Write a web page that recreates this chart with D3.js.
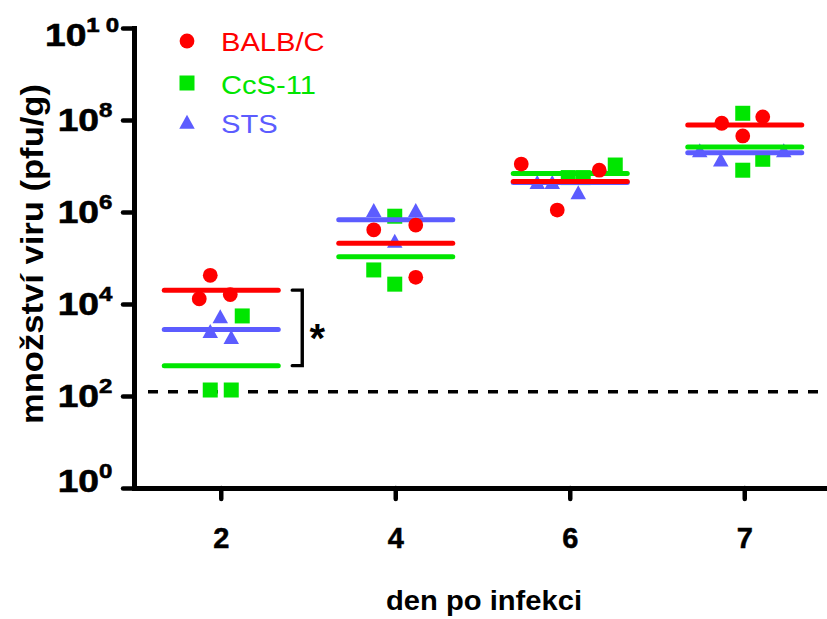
<!DOCTYPE html>
<html>
<head>
<meta charset="utf-8">
<script src="https://cdn.jsdelivr.net/npm/d3@7"></script>
<style>
  html, body { margin: 0; padding: 0; background: #fff; }
  svg { display: block; font-family: "Liberation Sans", Arial, sans-serif; }
</style>
</head>
<body>
<svg id="chart" width="827" height="619"></svg>
<script>
// ---------------- data ----------------
const days = ["2", "4", "6", "7"];
const yTickExponents = [0, 2, 4, 6, 8, 10];
const seriesNames = ["BALB/C", "CcS-11", "STS"];

// individual animals (pfu/g), 3 per day
const balbValues = [[4.2e4, 1.3e4, 1.6e4], [4.1e5, 5.2e5, 3.8e4], [1.1e7, 8.1e6, 1.1e6], [8.5e7, 1.17e8, 4.5e7]];
const ccsValues  = [[5.5e3, 135, 135], [8.1e5, 5.5e4, 2.7e4], [1.05e7, 5.6e6, 5.6e6], [1.4e8, 1.4e7, 8.1e6]];
const stsValues  = [[4.8e3, 2.3e3, 1.7e3], [9.8e5, 9.8e5, 2.1e5], [4.0e6, 4.0e6, 2.4e6], [1.95e7, 1.95e7, 1.23e7]];

// group means (geometric)
const balbMeans = [2.0e4, 2.1e5, 4.6e6, 7.8e7];
const ccsMeans  = [457, 1.07e5, 6.9e6, 2.6e7];
const stsMeans  = [2.8e3, 6.8e5, 4.4e6, 1.95e7];

// horizontal spread of overlapping points (in marker slots)
const balbJitter = [[-1.1, -2.2, 0.9], [-2.2, 2.0, 2.0], [-4.9, 2.9, -1.3], [-2.3, 1.8, -0.2]];
const ccsJitter  = [[2.1, -1.1, 1.0], [-0.1, -2.2, -0.1], [4.5, -0.2, 1.3], [-0.2, 1.8, -0.2]];
const stsJitter  = [[-0.1, -1.1, 1.0], [-2.2, 2.0, -0.1], [-3.3, -1.8, 0.8], [-4.5, 3.9, -2.4]];

const detectionLimit = 123;
const significance = "*";

// ---------------- styling ----------------
const colors = { "BALB/C": "#ff0000", "CcS-11": "#00e600", "STS": "#5c5cff" };
const slot = 10;

const svg = d3.select("#chart");
const x = d3.scaleBand().domain(days).range([134, 832]).padding(0);
const y = d3.scaleLog().domain([1, 1e10]).range([488, 28]);
const cx = d => x(d) + x.bandwidth() / 2;

// ---------------- axes ----------------
const yAxis = d3.axisLeft(y).tickValues(yTickExponents.map(e => Math.pow(10, e)))
  .tickSize(11).tickSizeOuter(0).tickFormat("");
const gy = svg.append("g").attr("transform", "translate(134,0)").call(yAxis);
gy.select(".domain").attr("stroke", "#000").attr("stroke-width", 5).attr("stroke-linecap", "square");
gy.selectAll(".tick line").attr("stroke", "#000").attr("stroke-width", 4.5).attr("stroke-linecap", "round");

const xAxis = d3.axisBottom(x).tickSize(11).tickSizeOuter(0).tickFormat("");
const gx = svg.append("g").attr("transform", "translate(0,488)").call(xAxis);
gx.select(".domain").attr("stroke", "#000").attr("stroke-width", 5).attr("stroke-linecap", "square");
gx.selectAll(".tick line").attr("stroke", "#000").attr("stroke-width", 4.5).attr("stroke-linecap", "round");

// y tick labels 10^n
yTickExponents.forEach(e => {
  const ty = Math.max(35, Math.min(481, y(Math.pow(10, e))));
  const g = svg.append("g").attr("transform", `translate(85,${ty}) scale(1.2,1)`);
  const t = g.append("text").attr("text-anchor", "middle").attr("y", 11)
    .attr("font-weight", "bold").attr("fill", "#000")
    .attr("stroke", "#000").attr("stroke-width", 0.6);
  t.append("tspan").attr("font-size", 31).text("10");
  t.append("tspan").attr("font-size", 20).attr("dy", -14)
    .attr("letter-spacing", String(e).length > 1 ? 5 : 0).text(String(e));
});

// x tick labels
days.forEach(d => {
  svg.append("text").attr("x", cx(d)).attr("y", 548).attr("text-anchor", "middle")
    .attr("font-size", 29).attr("font-weight", "bold")
    .attr("stroke", "#000").attr("stroke-width", 0.5).text(d);
});

// axis titles
svg.append("text").attr("x", 484).attr("y", 610).attr("text-anchor", "middle")
  .attr("font-size", 28).attr("font-weight", "bold")
  .attr("textLength", 196).attr("lengthAdjust", "spacingAndGlyphs")
  .text("den po infekci");
svg.append("text").attr("transform", "translate(43,254) rotate(-90)").attr("text-anchor", "middle")
  .attr("font-size", 32).attr("font-weight", "bold")
  .attr("textLength", 340).attr("lengthAdjust", "spacingAndGlyphs")
  .text("množství viru (pfu/g)");

// detection limit
svg.append("line").attr("x1", 148).attr("x2", 827)
  .attr("y1", y(detectionLimit)).attr("y2", y(detectionLimit))
  .attr("stroke", "#000").attr("stroke-width", 3.5).attr("stroke-dasharray", "10,10");

// ---------------- markers ----------------
function drawMarker(g, shape, px, py, color) {
  if (shape === "circle") {
    g.append("circle").attr("cx", px).attr("cy", py).attr("r", 7.4).attr("fill", color);
  } else if (shape === "square") {
    g.append("rect").attr("x", px - 7.5).attr("y", py - 7.5).attr("width", 15).attr("height", 15).attr("fill", color);
  } else {
    const h = 14, w = 15.5;
    g.append("path").attr("d", `M${px},${py - 2 * h / 3}L${px + w / 2},${py + h / 3}L${px - w / 2},${py + h / 3}Z`)
      .attr("fill", color);
  }
}

const series = [
  { name: "STS", shape: "triangle", values: stsValues, jitter: stsJitter, means: stsMeans },
  { name: "CcS-11", shape: "square", values: ccsValues, jitter: ccsJitter, means: ccsMeans },
  { name: "BALB/C", shape: "circle", values: balbValues, jitter: balbJitter, means: balbMeans }
];

const gPts = svg.append("g");
function drawPoints(s, g) {
  days.forEach((d, i) => {
    s.values[i].forEach((v, j) => {
      drawMarker(g, s.shape, cx(d) + s.jitter[i][j] * slot, y(v), colors[s.name]);
    });
  });
}
function drawMeans(s) {
  days.forEach((d, i) => {
    svg.append("line").attr("x1", cx(d) - 57).attr("x2", cx(d) + 57)
      .attr("y1", y(s.means[i])).attr("y2", y(s.means[i]))
      .attr("stroke", colors[s.name]).attr("stroke-width", 5).attr("stroke-linecap", "round");
  });
}
drawPoints(series[0], gPts);
drawPoints(series[1], gPts);
drawMeans(series[0]);
drawMeans(series[1]);
drawMeans(series[2]);
drawPoints(series[2], svg.append("g"));

// significance bracket on day 2 (BALB/C vs CcS-11)
const bx = cx(days[0]);
const yTop = y(balbMeans[0]), yBot = y(ccsMeans[0]);
svg.append("path").attr("d", `M${bx + 71},${yTop}H${bx + 81}V${yBot}H${bx + 71}`)
  .attr("fill", "none").attr("stroke", "#000").attr("stroke-width", 3.4)
  .attr("stroke-linecap", "round").attr("stroke-linejoin", "miter");
svg.append("text").attr("x", bx + 96).attr("y", (yTop + yBot) / 2 + 24).attr("text-anchor", "middle")
  .attr("font-size", 40).attr("font-weight", "bold").text(significance);

// ---------------- legend ----------------
const legendShapes = { "BALB/C": "circle", "CcS-11": "square", "STS": "triangle" };
const legendY = [41, 83, 124];
const legendBase = [50.5, 93.5, 133];
const gLeg = svg.append("g");
seriesNames.forEach((n, i) => {
  drawMarker(gLeg, legendShapes[n], 187, legendY[i], colors[n]);
  const t = gLeg.append("text").attr("x", 221).attr("y", legendBase[i])
    .attr("font-size", 26).attr("fill", colors[n]).text(n);
  const w = t.node().getComputedTextLength();
  t.attr("textLength", w * 1.12).attr("lengthAdjust", "spacingAndGlyphs");
});
</script>
</body>
</html>
